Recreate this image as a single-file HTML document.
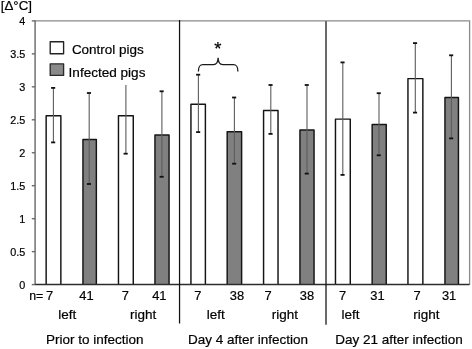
<!DOCTYPE html><html><head><meta charset="utf-8"><title>chart</title><style>html,body{margin:0;padding:0;background:#fff}svg{display:block;will-change:transform}text{font-family:"Liberation Sans",Arial,sans-serif;fill:#000}</style></head><body>
<svg width="472" height="349" viewBox="0 0 472 349">
<rect width="472" height="349" fill="#fff"/>
<path d="M35.1 20.9 H469.6 V284.6" fill="none" stroke="#8a8a8a" stroke-width="1.3"/>
<path d="M35.1 20.2 V284.6" fill="none" stroke="#6c6c6c" stroke-width="1.45"/>
<line x1="31.8" x2="35.1" y1="284.60" y2="284.60" stroke="#6c6c6c" stroke-width="1.4"/>
<text x="25.3" y="288.75" font-size="10.8" text-anchor="end" stroke="#000" stroke-width="0.2">0</text>
<line x1="31.8" x2="35.1" y1="251.64" y2="251.64" stroke="#6c6c6c" stroke-width="1.4"/>
<text x="25.3" y="255.79" font-size="10.8" text-anchor="end" stroke="#000" stroke-width="0.2">0.5</text>
<line x1="31.8" x2="35.1" y1="218.68" y2="218.68" stroke="#6c6c6c" stroke-width="1.4"/>
<text x="25.3" y="222.83" font-size="10.8" text-anchor="end" stroke="#000" stroke-width="0.2">1</text>
<line x1="31.8" x2="35.1" y1="185.71" y2="185.71" stroke="#6c6c6c" stroke-width="1.4"/>
<text x="25.3" y="189.86" font-size="10.8" text-anchor="end" stroke="#000" stroke-width="0.2">1.5</text>
<line x1="31.8" x2="35.1" y1="152.75" y2="152.75" stroke="#6c6c6c" stroke-width="1.4"/>
<text x="25.3" y="156.90" font-size="10.8" text-anchor="end" stroke="#000" stroke-width="0.2">2</text>
<line x1="31.8" x2="35.1" y1="119.79" y2="119.79" stroke="#6c6c6c" stroke-width="1.4"/>
<text x="25.3" y="123.94" font-size="10.8" text-anchor="end" stroke="#000" stroke-width="0.2">2.5</text>
<line x1="31.8" x2="35.1" y1="86.82" y2="86.82" stroke="#6c6c6c" stroke-width="1.4"/>
<text x="25.3" y="90.97" font-size="10.8" text-anchor="end" stroke="#000" stroke-width="0.2">3</text>
<line x1="31.8" x2="35.1" y1="53.86" y2="53.86" stroke="#6c6c6c" stroke-width="1.4"/>
<text x="25.3" y="58.01" font-size="10.8" text-anchor="end" stroke="#000" stroke-width="0.2">3.5</text>
<line x1="31.8" x2="35.1" y1="20.90" y2="20.90" stroke="#6c6c6c" stroke-width="1.4"/>
<text x="25.3" y="25.05" font-size="10.8" text-anchor="end" stroke="#000" stroke-width="0.2">4</text>
<path d="M46.15 284.6 V115.70 H60.85 V284.6" fill="#fff" stroke="#141414" stroke-width="1.45" stroke-linejoin="round"/>
<path d="M82.95 284.6 V139.50 H96.35 V284.6" fill="#808080" stroke="#141414" stroke-width="1.45" stroke-linejoin="round"/>
<path d="M118.47 284.6 V115.70 H133.27 V284.6" fill="#fff" stroke="#141414" stroke-width="1.45" stroke-linejoin="round"/>
<path d="M154.95 284.6 V135.00 H169.05 V284.6" fill="#808080" stroke="#141414" stroke-width="1.45" stroke-linejoin="round"/>
<path d="M190.94 284.6 V104.30 H205.39 V284.6" fill="#fff" stroke="#141414" stroke-width="1.45" stroke-linejoin="round"/>
<path d="M227.18 284.6 V131.70 H241.62 V284.6" fill="#808080" stroke="#141414" stroke-width="1.45" stroke-linejoin="round"/>
<path d="M263.57 284.6 V110.40 H278.03 V284.6" fill="#fff" stroke="#141414" stroke-width="1.45" stroke-linejoin="round"/>
<path d="M299.95 284.6 V130.00 H314.05 V284.6" fill="#808080" stroke="#141414" stroke-width="1.45" stroke-linejoin="round"/>
<path d="M335.47 284.6 V119.10 H350.27 V284.6" fill="#fff" stroke="#141414" stroke-width="1.45" stroke-linejoin="round"/>
<path d="M372.15 284.6 V124.40 H386.25 V284.6" fill="#808080" stroke="#141414" stroke-width="1.45" stroke-linejoin="round"/>
<path d="M407.95 284.6 V78.60 H422.85 V284.6" fill="#fff" stroke="#141414" stroke-width="1.45" stroke-linejoin="round"/>
<path d="M444.95 284.6 V97.50 H458.45 V284.6" fill="#808080" stroke="#141414" stroke-width="1.45" stroke-linejoin="round"/>
<line x1="53.40" x2="53.40" y1="87.90" y2="142.40" stroke="#5c5c5c" stroke-width="1.1"/>
<line x1="51.10" x2="55.20" y1="87.90" y2="87.90" stroke="#111" stroke-width="1.8"/>
<line x1="51.10" x2="55.20" y1="142.40" y2="142.40" stroke="#111" stroke-width="1.8"/>
<line x1="89.20" x2="89.20" y1="93.00" y2="184.00" stroke="#5c5c5c" stroke-width="1.1"/>
<line x1="86.90" x2="91.00" y1="93.00" y2="93.00" stroke="#111" stroke-width="1.8"/>
<line x1="86.90" x2="91.00" y1="184.00" y2="184.00" stroke="#111" stroke-width="1.8"/>
<line x1="125.90" x2="125.90" y1="85.00" y2="153.70" stroke="#5c5c5c" stroke-width="1.1"/>
<line x1="123.60" x2="127.70" y1="153.70" y2="153.70" stroke="#111" stroke-width="1.8"/>
<line x1="161.90" x2="161.90" y1="91.30" y2="176.80" stroke="#5c5c5c" stroke-width="1.1"/>
<line x1="159.60" x2="163.70" y1="91.30" y2="91.30" stroke="#111" stroke-width="1.8"/>
<line x1="159.60" x2="163.70" y1="176.80" y2="176.80" stroke="#111" stroke-width="1.8"/>
<line x1="198.40" x2="198.40" y1="74.70" y2="132.10" stroke="#5c5c5c" stroke-width="1.1"/>
<line x1="196.10" x2="200.20" y1="74.70" y2="74.70" stroke="#111" stroke-width="1.8"/>
<line x1="196.10" x2="200.20" y1="132.10" y2="132.10" stroke="#111" stroke-width="1.8"/>
<line x1="234.40" x2="234.40" y1="97.50" y2="163.70" stroke="#5c5c5c" stroke-width="1.1"/>
<line x1="232.10" x2="236.20" y1="97.50" y2="97.50" stroke="#111" stroke-width="1.8"/>
<line x1="232.10" x2="236.20" y1="163.70" y2="163.70" stroke="#111" stroke-width="1.8"/>
<line x1="270.80" x2="270.80" y1="85.00" y2="133.90" stroke="#5c5c5c" stroke-width="1.1"/>
<line x1="268.50" x2="272.60" y1="85.00" y2="85.00" stroke="#111" stroke-width="1.8"/>
<line x1="268.50" x2="272.60" y1="133.90" y2="133.90" stroke="#111" stroke-width="1.8"/>
<line x1="307.00" x2="307.00" y1="85.00" y2="173.60" stroke="#5c5c5c" stroke-width="1.1"/>
<line x1="304.70" x2="308.80" y1="85.00" y2="85.00" stroke="#111" stroke-width="1.8"/>
<line x1="304.70" x2="308.80" y1="173.60" y2="173.60" stroke="#111" stroke-width="1.8"/>
<line x1="342.80" x2="342.80" y1="62.40" y2="174.90" stroke="#5c5c5c" stroke-width="1.1"/>
<line x1="340.50" x2="344.60" y1="62.40" y2="62.40" stroke="#111" stroke-width="1.8"/>
<line x1="340.50" x2="344.60" y1="174.90" y2="174.90" stroke="#111" stroke-width="1.8"/>
<line x1="379.00" x2="379.00" y1="93.20" y2="155.30" stroke="#5c5c5c" stroke-width="1.1"/>
<line x1="376.70" x2="380.80" y1="93.20" y2="93.20" stroke="#111" stroke-width="1.8"/>
<line x1="376.70" x2="380.80" y1="155.30" y2="155.30" stroke="#111" stroke-width="1.8"/>
<line x1="415.30" x2="415.30" y1="43.10" y2="112.60" stroke="#5c5c5c" stroke-width="1.1"/>
<line x1="413.00" x2="417.10" y1="43.10" y2="43.10" stroke="#111" stroke-width="1.8"/>
<line x1="413.00" x2="417.10" y1="112.60" y2="112.60" stroke="#111" stroke-width="1.8"/>
<line x1="451.40" x2="451.40" y1="55.30" y2="138.40" stroke="#5c5c5c" stroke-width="1.1"/>
<line x1="449.10" x2="453.20" y1="55.30" y2="55.30" stroke="#111" stroke-width="1.8"/>
<line x1="449.10" x2="453.20" y1="138.40" y2="138.40" stroke="#111" stroke-width="1.8"/>
<line x1="35.1" x2="469.6" y1="284.5" y2="284.5" stroke="#2c2c2c" stroke-width="1.4"/>
<line x1="179.55" x2="179.55" y1="20.1" y2="323.6" stroke="#111" stroke-width="1.25"/>
<line x1="326.0" x2="326.0" y1="21.3" y2="324.8" stroke="#111" stroke-width="1.25"/>
<rect x="50.2" y="41.7" width="13.4" height="12.0" fill="#fff" stroke="#222" stroke-width="1.35" stroke-linejoin="round"/>
<rect x="50.2" y="63.8" width="13.4" height="11.6" fill="#8a8a8a" stroke="#2a2a2a" stroke-width="1.35" stroke-linejoin="round"/>
<text x="71.9" y="53.7" font-size="13.48" stroke="#000" stroke-width="0.2">Control pigs</text>
<text x="68.6" y="76.7" font-size="13.55" stroke="#000" stroke-width="0.2">Infected pigs</text>
<text x="0.8" y="10.2" font-size="13.3" stroke="#000" stroke-width="0.2">[Δ°C]</text>
<path d="M198.4 71.6 C198.4 66.5 199.5 64.6 203 64.6 L213.5 64.6 C216.6 64.6 218 62.8 218.1 57.7 C218.2 62.8 219.6 64.6 222.7 64.6 L233.3 64.6 C236.8 64.6 237.9 66.5 237.9 71.6" fill="none" stroke="#1a1a1a" stroke-width="1.3"/>
<text x="217.9" y="54.5" font-size="18.5" text-anchor="middle" stroke="#000" stroke-width="0.2">*</text>
<text x="29.2" y="299.5" font-size="12.3" stroke="#000" stroke-width="0.2">n=</text>
<text x="49.5" y="299.6" font-size="12.9" text-anchor="middle" stroke="#000" stroke-width="0.2">7</text>
<text x="86.4" y="299.6" font-size="12.9" text-anchor="middle" stroke="#000" stroke-width="0.2">41</text>
<text x="125.4" y="299.6" font-size="12.9" text-anchor="middle" stroke="#000" stroke-width="0.2">7</text>
<text x="159.3" y="299.6" font-size="12.9" text-anchor="middle" stroke="#000" stroke-width="0.2">41</text>
<text x="197.8" y="299.6" font-size="12.9" text-anchor="middle" stroke="#000" stroke-width="0.2">7</text>
<text x="237.0" y="299.6" font-size="12.9" text-anchor="middle" stroke="#000" stroke-width="0.2">38</text>
<text x="268.2" y="299.6" font-size="12.9" text-anchor="middle" stroke="#000" stroke-width="0.2">7</text>
<text x="306.9" y="299.6" font-size="12.9" text-anchor="middle" stroke="#000" stroke-width="0.2">38</text>
<text x="342.5" y="299.6" font-size="12.9" text-anchor="middle" stroke="#000" stroke-width="0.2">7</text>
<text x="377.4" y="299.6" font-size="12.9" text-anchor="middle" stroke="#000" stroke-width="0.2">31</text>
<text x="417.0" y="299.6" font-size="12.9" text-anchor="middle" stroke="#000" stroke-width="0.2">7</text>
<text x="449.1" y="299.6" font-size="12.9" text-anchor="middle" stroke="#000" stroke-width="0.2">31</text>
<text x="67.2" y="319" font-size="13.5" text-anchor="middle" stroke="#000" stroke-width="0.2">left</text>
<text x="143.1" y="319" font-size="13.5" text-anchor="middle" stroke="#000" stroke-width="0.2">right</text>
<text x="215.7" y="319" font-size="13.5" text-anchor="middle" stroke="#000" stroke-width="0.2">left</text>
<text x="284.8" y="319" font-size="13.5" text-anchor="middle" stroke="#000" stroke-width="0.2">right</text>
<text x="350.6" y="319" font-size="13.5" text-anchor="middle" stroke="#000" stroke-width="0.2">left</text>
<text x="426.4" y="319" font-size="13.5" text-anchor="middle" stroke="#000" stroke-width="0.2">right</text>
<text x="94.7" y="344.4" font-size="13.5" text-anchor="middle" stroke="#000" stroke-width="0.2">Prior to infection</text>
<text x="248.0" y="344.4" font-size="13.5" text-anchor="middle" stroke="#000" stroke-width="0.2">Day 4 after infection</text>
<text x="399.1" y="344.4" font-size="13.5" text-anchor="middle" stroke="#000" stroke-width="0.2">Day 21 after infection</text>
</svg></body></html>
